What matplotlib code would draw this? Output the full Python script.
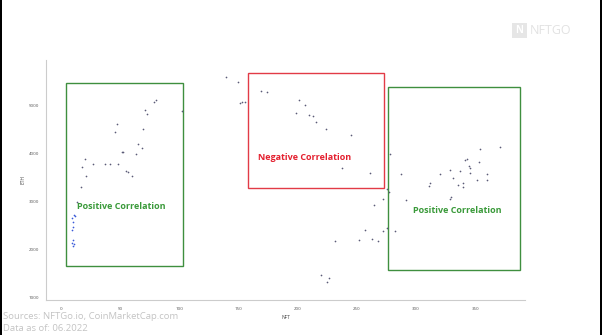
import matplotlib
matplotlib.use("Agg")
import matplotlib.pyplot as plt
from matplotlib.patches import Rectangle

plt.rcParams['font.family'] = ['Open Sans', 'DejaVu Sans']

# NFT vs ETH observations (gray points)
nft = [79.7, 78.2, 70.9, 72.6, 102.0, 47.2, 45.5, 69.2, 64.9, 68.1, 52.3, 51.1, 63.0,
       19.6, 17.6, 26.4, 36.5, 41.1, 48.0, 54.4, 56.5, 59.6, 20.7, 16.2, 13.1,
       139.1, 149.1, 150.7, 152.3, 155.6, 168.8, 173.9, 201.2, 206.4, 198.5, 209.6,
       212.7, 215.1, 223.5, 245.0, 237.5, 261.0, 278.1, 275.2, 277.1, 272.1, 264.6,
       257.0, 272.1, 275.4, 282.2, 231.6, 251.3, 262.5, 268.0, 219.3, 225.9, 224.9,
       287.6, 291.5, 311.8, 310.9, 320.3, 328.7, 331.0, 337.2, 335.7, 339.9, 339.9,
       328.3, 329.5, 341.4, 343.3, 344.7, 345.3, 345.2, 352.8, 353.7, 371.2, 360.0,
       359.7, 351.7]
eth = [5119, 5071, 4910, 4827, 4890, 4619, 4452, 4521, 4208, 4125, 4035, 4035, 3988,
       3896, 3717, 3792, 3792, 3792, 3785, 3633, 3613, 3542, 3542, 3313, 2994,
       5604, 5504, 5062, 5077, 5071, 5306, 5279, 5125, 5010, 4854, 4806,
       4779, 4667, 4519, 4390, 3692, 3588, 4004, 3265, 3196, 3050, 2925,
       2406, 2390, 2452, 2390, 2177, 2192, 2219, 2177, 1473, 1406, 1331,
       3567, 3029, 3390, 3317, 3567, 3650, 3488, 3640, 3344, 3390, 3300,
       3056, 3092, 3869, 3883, 3740, 3692, 3608, 3817, 4094, 4144, 3581,
       3452, 3452]

# early observations (blue points)
nft_early = [10.4, 11.2, 9.2, 9.8, 9.5, 8.7, 10.0, 8.9, 10.6, 9.5]
eth_early = [2723, 2702, 2654, 2583, 2479, 2410, 2202, 2146, 2113, 2083]

x_ticks = [0, 50, 100, 150, 200, 250, 300, 350]
y_ticks = [1000, 2000, 3000, 4000, 5000]

# annotation regions: (x0, y0, x1, y1, label, edge colour, text colour, text x, text y)
regions = [
    (3.8, 1667, 102.8, 5479, "Positive Correlation", "#3f8f3f", "#3a9a3a", 50.8, 2910),
    (158.0, 3292, 273.1, 5675, "Negative Correlation", "#e23b47", "#e4202f", 205.8, 3931),
    (276.5, 1571, 388.2, 5383, "Positive Correlation", "#3f8f3f", "#3a9a3a", 334.9, 2812),
]

fig = plt.figure(figsize=(6.02, 3.35), dpi=100)
ax = fig.add_axes([46/602, 1-300/335, (525-46)/602, (300-60)/335])

ax.scatter(nft, eth, s=1.5, color="#5b5b78", linewidths=0, zorder=3)
ax.scatter(nft_early, eth_early, s=1.5, color="#3a5ad8", linewidths=0, zorder=3)

for x0, y0, x1, y1, lab, ec, tc, tx, ty in regions:
    ax.add_patch(Rectangle((x0, y0), x1-x0, y1-y0, fill=False, edgecolor=ec,
                           linewidth=1.0, zorder=2))
    ax.text(tx, ty, lab, color=tc, fontsize=6.45, fontweight='bold',
            ha='center', va='center', zorder=4)

ax.set_xlim(-13.1, 392.1)
ax.set_ylim(952, 5952)
ax.set_xticks(x_ticks)
ax.set_yticks(y_ticks)
ax.tick_params(axis='x', length=0, labelsize=3.2, labelcolor="#555555", pad=5)
ax.tick_params(axis='y', length=0, labelsize=3.2, labelcolor="#555555", pad=5)
for s in ['top', 'right']:
    ax.spines[s].set_visible(False)
for s in ['left', 'bottom']:
    ax.spines[s].set_color("#cccccc")
    ax.spines[s].set_linewidth(0.8)
ax.set_xlabel("NFT", fontsize=3.5, color="#444444", labelpad=3)
ax.set_ylabel("ETH", fontsize=3.5, color="#444444", labelpad=2)

fig.text(3/602, 1-316.5/335, "Sources: NFTGo.io, CoinMarketCap.com", fontsize=6.8,
         color="#c4c4c4", ha='left', va='center')
fig.text(3/602, 1-328.5/335, "Data as of: 06.2022", fontsize=6.8,
         color="#c4c4c4", ha='left', va='center')

# logo
fig.patches.append(Rectangle((512/602, 1-38/335), 15/602, 15/335, transform=fig.transFigure,
                             facecolor="#e6e6e6", edgecolor='none'))
fig.text(519.5/602, 1-30.5/335, "N", fontsize=7, color="white", fontweight='bold',
         ha='center', va='center')
fig.text(530/602, 1-30.5/335, "NFTGO", fontsize=9, color="#e2e2e2",
         ha='left', va='center')

# frame edges
fig.patches.append(Rectangle((0, 0), 2/602, 1, transform=fig.transFigure,
                             facecolor="black", edgecolor='none'))
fig.patches.append(Rectangle((600/602, 0), 2/602, 1, transform=fig.transFigure,
                             facecolor="black", edgecolor='none'))

fig.savefig("out.png", dpi=100, facecolor="white")
